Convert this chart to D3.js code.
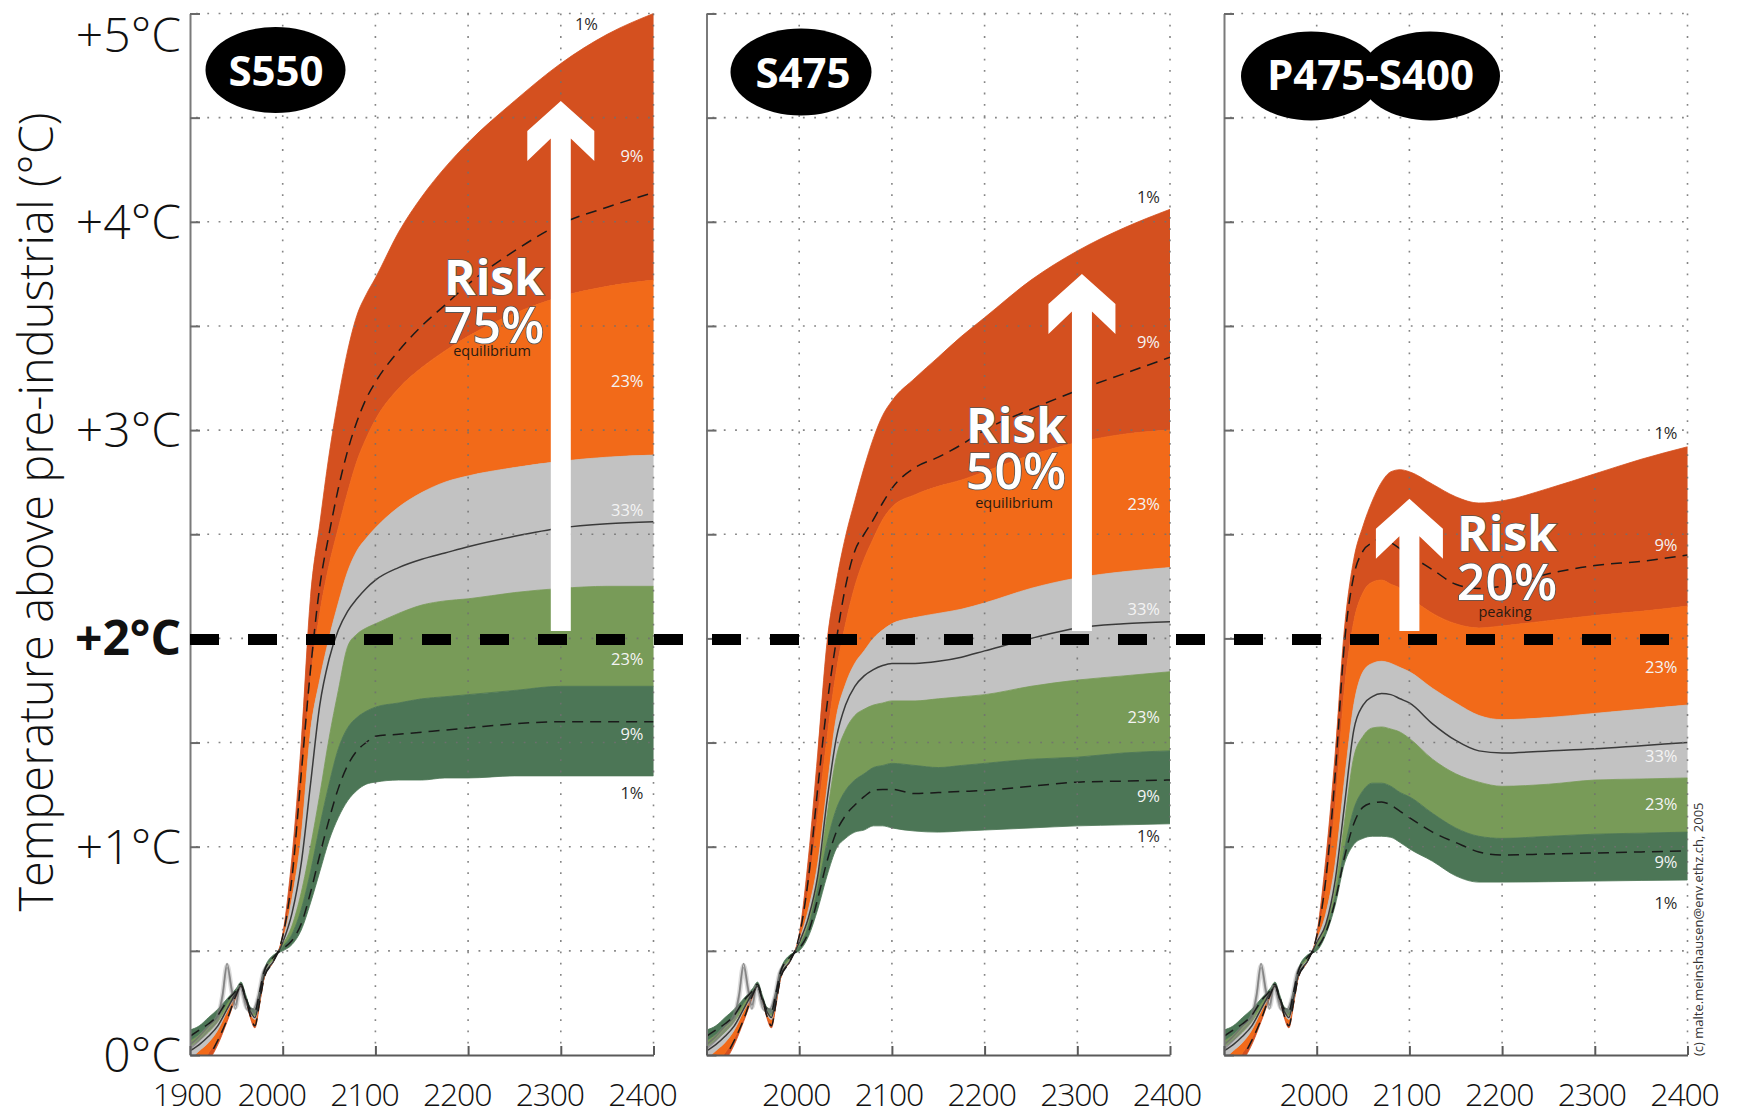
<!DOCTYPE html>
<html><head><meta charset="utf-8">
<script src="https://cdn.jsdelivr.net/npm/d3@7"></script>
<style>
html,body{margin:0;padding:0;background:#fff;}
svg{display:block;font-family:"Open Sans","Noto Sans",sans-serif;}
</style></head>
<body><svg id="chart" width="1737" height="1116"></svg>
<script>
// ---------------- DATA ----------------
const scenarioNames = ["S550", "S475", "P475-S400"];
const riskValues = ["75%", "50%", "20%"];
const riskNotes = ["equilibrium", "equilibrium", "peaking"];
const bandLabels = ["1%", "9%", "23%", "33%", "23%", "9%", "1%"];
const yTickLabels = ["0°C", "+1°C", "+2°C", "+3°C", "+4°C", "+5°C"];
const yTickValues = [0, 1, 2, 3, 4, 5];
const xTickYears = [1900, 2000, 2100, 2200, 2300, 2400];

// historical period (shared by all scenarios)
const histYears = [1900, 1910, 1920, 1930, 1940, 1950, 1955, 1960, 1965, 1970, 1975, 1980, 1990];
const histP99 = [-0.12, -0.08, -0.03, 0.05, 0.16, 0.28, 0.33, 0.27, 0.18, 0.13, 0.24, 0.37, 0.45];
const histP95 = [-0.10, -0.06, -0.01, 0.07, 0.17, 0.29, 0.33, 0.27, 0.19, 0.14, 0.25, 0.37, 0.45];
const histP90 = [-0.08, -0.04, 0.01, 0.08, 0.18, 0.29, 0.33, 0.27, 0.19, 0.15, 0.25, 0.37, 0.45];
const histP67 = [-0.02, 0.02, 0.06, 0.12, 0.21, 0.29, 0.33, 0.27, 0.20, 0.17, 0.26, 0.38, 0.45];
const histMed = [0.02, 0.05, 0.09, 0.14, 0.22, 0.30, 0.33, 0.27, 0.21, 0.18, 0.27, 0.38, 0.45];
const histP33 = [0.04, 0.07, 0.11, 0.16, 0.23, 0.30, 0.33, 0.27, 0.21, 0.19, 0.28, 0.39, 0.46];
const histP10 = [0.07, 0.10, 0.14, 0.18, 0.25, 0.31, 0.34, 0.28, 0.22, 0.20, 0.29, 0.40, 0.47];
const histP5  = [0.09, 0.12, 0.15, 0.19, 0.26, 0.31, 0.34, 0.28, 0.22, 0.21, 0.30, 0.40, 0.47];
const histP1  = [0.12, 0.14, 0.18, 0.22, 0.27, 0.32, 0.35, 0.29, 0.23, 0.22, 0.31, 0.41, 0.48];
const obsYears = [1900, 1910, 1920, 1930, 1935, 1940, 1945, 1949, 1954, 1961, 1968, 1974, 1979, 1985];
const obsTemps = [0.04, 0.08, 0.13, 0.18, 0.28, 0.43, 0.31, 0.23, 0.33, 0.23, 0.21, 0.28, 0.39, 0.43];

// projections
const futureYears = [2000, 2010, 2020, 2030, 2040, 2050, 2060, 2070, 2080, 2090, 2100, 2125, 2150, 2175, 2200, 2250, 2300, 2350, 2400];

const s550P99 = [0.58, 0.95, 1.50, 2.20, 2.55, 2.88, 3.15, 3.38, 3.55, 3.65, 3.73, 3.95, 4.12, 4.26, 4.38, 4.58, 4.76, 4.90, 5.00];
const s550P95 = [0.57, 0.85, 1.35, 1.85, 2.25, 2.50, 2.72, 2.90, 3.04, 3.15, 3.23, 3.38, 3.50, 3.60, 3.70, 3.86, 3.99, 4.07, 4.14];
const s550P90 = [0.56, 0.82, 1.30, 1.80, 2.12, 2.35, 2.53, 2.70, 2.85, 2.96, 3.05, 3.20, 3.30, 3.38, 3.45, 3.56, 3.64, 3.69, 3.72];
const s550P67 = [0.55, 0.75, 1.05, 1.55, 1.80, 2.00, 2.17, 2.32, 2.42, 2.48, 2.53, 2.63, 2.70, 2.75, 2.78, 2.82, 2.85, 2.87, 2.88];
const s550Med = [0.54, 0.68, 0.92, 1.30, 1.68, 1.90, 2.04, 2.13, 2.19, 2.24, 2.28, 2.34, 2.38, 2.41, 2.44, 2.49, 2.53, 2.55, 2.56];
const s550P33 = [0.53, 0.62, 0.78, 1.00, 1.25, 1.52, 1.75, 1.96, 2.02, 2.05, 2.07, 2.12, 2.16, 2.18, 2.19, 2.22, 2.24, 2.25, 2.25];
const s550P10 = [0.52, 0.58, 0.70, 0.88, 1.10, 1.30, 1.47, 1.57, 1.62, 1.65, 1.67, 1.69, 1.71, 1.72, 1.73, 1.75, 1.77, 1.77, 1.77];
const s550P5  = [0.51, 0.55, 0.63, 0.78, 0.96, 1.13, 1.28, 1.39, 1.46, 1.50, 1.53, 1.54, 1.55, 1.56, 1.57, 1.59, 1.60, 1.60, 1.60];
const s550P1  = [0.50, 0.53, 0.60, 0.73, 0.88, 1.03, 1.14, 1.22, 1.27, 1.30, 1.31, 1.32, 1.32, 1.33, 1.33, 1.34, 1.34, 1.34, 1.34];

const s475P99 = [0.58, 0.95, 1.45, 1.98, 2.27, 2.49, 2.66, 2.82, 2.96, 3.07, 3.14, 3.25, 3.35, 3.45, 3.54, 3.72, 3.86, 3.97, 4.06];
const s475P95 = [0.57, 0.85, 1.28, 1.68, 1.99, 2.25, 2.42, 2.50, 2.57, 2.65, 2.72, 2.82, 2.87, 2.93, 3.00, 3.10, 3.19, 3.27, 3.35];
const s475P90 = [0.56, 0.80, 1.15, 1.52, 1.84, 2.07, 2.25, 2.38, 2.48, 2.57, 2.63, 2.69, 2.73, 2.76, 2.80, 2.88, 2.94, 2.98, 3.00];
const s475P67 = [0.55, 0.70, 0.92, 1.28, 1.62, 1.78, 1.88, 1.94, 2.00, 2.04, 2.07, 2.10, 2.12, 2.14, 2.17, 2.24, 2.29, 2.32, 2.34];
const s475Med = [0.54, 0.66, 0.86, 1.22, 1.52, 1.68, 1.77, 1.82, 1.85, 1.87, 1.88, 1.88, 1.89, 1.91, 1.94, 2.00, 2.05, 2.07, 2.08];
const s475P33 = [0.53, 0.64, 0.84, 1.15, 1.43, 1.56, 1.63, 1.66, 1.68, 1.69, 1.70, 1.70, 1.71, 1.72, 1.73, 1.77, 1.80, 1.82, 1.84];
const s475P10 = [0.52, 0.62, 0.80, 1.02, 1.18, 1.27, 1.32, 1.35, 1.38, 1.39, 1.40, 1.39, 1.38, 1.39, 1.40, 1.42, 1.43, 1.45, 1.46];
const s475P5  = [0.51, 0.59, 0.75, 0.93, 1.07, 1.15, 1.20, 1.24, 1.27, 1.275, 1.275, 1.255, 1.26, 1.265, 1.27, 1.29, 1.31, 1.315, 1.32];
const s475P1  = [0.50, 0.57, 0.70, 0.86, 0.99, 1.04, 1.07, 1.08, 1.10, 1.10, 1.09, 1.075, 1.07, 1.075, 1.08, 1.09, 1.10, 1.105, 1.11];

const p475P99 = [0.58, 0.95, 1.45, 2.05, 2.38, 2.54, 2.66, 2.75, 2.80, 2.81, 2.80, 2.74, 2.68, 2.65, 2.66, 2.72, 2.79, 2.86, 2.92];
const p475P95 = [0.57, 0.85, 1.35, 1.98, 2.30, 2.42, 2.46, 2.48, 2.46, 2.43, 2.40, 2.33, 2.26, 2.24, 2.25, 2.31, 2.35, 2.37, 2.40];
const p475P90 = [0.56, 0.80, 1.20, 1.76, 2.08, 2.22, 2.27, 2.28, 2.26, 2.24, 2.20, 2.12, 2.07, 2.05, 2.06, 2.085, 2.11, 2.13, 2.155];
const p475P67 = [0.55, 0.68, 0.92, 1.32, 1.68, 1.84, 1.88, 1.89, 1.88, 1.86, 1.84, 1.76, 1.69, 1.63, 1.61, 1.62, 1.64, 1.66, 1.68];
const p475Med = [0.54, 0.63, 0.84, 1.20, 1.56, 1.68, 1.72, 1.735, 1.73, 1.71, 1.69, 1.59, 1.51, 1.46, 1.45, 1.46, 1.47, 1.485, 1.50];
const p475P33 = [0.53, 0.62, 0.80, 1.12, 1.43, 1.53, 1.57, 1.575, 1.565, 1.55, 1.52, 1.42, 1.35, 1.31, 1.29, 1.30, 1.32, 1.325, 1.33];
const p475P10 = [0.52, 0.60, 0.76, 0.99, 1.18, 1.27, 1.305, 1.305, 1.29, 1.26, 1.24, 1.16, 1.09, 1.05, 1.04, 1.05, 1.06, 1.065, 1.07];
const p475P5  = [0.51, 0.59, 0.74, 0.95, 1.11, 1.19, 1.21, 1.215, 1.20, 1.17, 1.14, 1.07, 1.02, 0.975, 0.96, 0.965, 0.97, 0.975, 0.98];
const p475P1  = [0.50, 0.58, 0.72, 0.92, 1.01, 1.04, 1.05, 1.05, 1.045, 1.02, 0.99, 0.93, 0.86, 0.83, 0.83, 0.832, 0.835, 0.838, 0.84];

// ---------------- LAYOUT ----------------
const svg = d3.select("#chart");
const panelLeft = [190, 706.5, 1224];
const panelWidth = 463.5;
const y = d3.scaleLinear().domain([0, 5]).range([1055, 13.5]);
const col = {red: "#d4501f", orange: "#f26a19", gray: "#c2c2c2", lgreen: "#789b58", dgreen: "#4c7656"};
const bandColors = [col.red, col.orange, col.gray, col.lgreen, col.dgreen];

const scenarioSeries = [
  [s550P99, s550P95, s550P90, s550P67, s550Med, s550P33, s550P10, s550P5, s550P1],
  [s475P99, s475P95, s475P90, s475P67, s475Med, s475P33, s475P10, s475P5, s475P1],
  [p475P99, p475P95, p475P90, p475P67, p475Med, p475P33, p475P10, p475P5, p475P1]
];
const histSeries = [histP99, histP95, histP90, histP67, histMed, histP33, histP10, histP5, histP1];
const allYears = histYears.concat(futureYears);

// annotation layout per panel
const ovals = [
  [{cx: 275.5, cy: 70, rx: 70, ry: 43}],
  [{cx: 801, cy: 72, rx: 70.5, ry: 43.5}],
  [{cx: 1311, cy: 76, rx: 70, ry: 44.5}, {cx: 1430, cy: 76, rx: 70, ry: 44.5}]
];
const ovalTextX = [276, 803, 1370.5];
const ovalTextY = [86, 88, 90];
const arrowYear = [2300, 2305, 2100];
const arrowTipT = [4.58, 3.75, 2.67];
const arrowBaseT = 2.035;
const riskX = [494, 1016, 1507];
const riskY = [[295, 343, 356], [443, 489, 508], [551, 600, 617]];
const labelBaselines = [
  [30, 162, 387, 516, 665, 740, 799],
  [203, 348, 510, 615, 723, 802, 842],
  [439, 551, 673, 762, 810, 868, 909]
];
const labelRightPad = 10;

const defs = svg.append("defs");

scenarioNames.forEach((name, i) => {
  const x = d3.scaleLinear().domain([1900, 2400]).range([panelLeft[i], panelLeft[i] + panelWidth]);
  const clipId = "clip" + i;
  defs.append("clipPath").attr("id", clipId).append("rect")
    .attr("x", x(1900)).attr("y", y(5) - 2).attr("width", panelWidth).attr("height", y(0) - y(5) + 2);
  const g = svg.append("g");
  const plot = g.append("g").attr("clip-path", `url(#${clipId})`);
  const s = scenarioSeries[i].map((arr, k) => histSeries[k].concat(arr));
  const [P99, P95, P90, P67, MED, P33, P10, P5, P1] = s;
  const bounds = [P99, P90, P67, P33, P10, P1];
  const area = (hi, lo) => d3.area()
    .x((d, j) => x(allYears[j])).y0((d, j) => y(lo[j])).y1((d, j) => y(hi[j]))
    .curve(d3.curveMonotoneX);
  for (let b = 0; b < 5; b++) {
    plot.append("path").datum(allYears).attr("d", area(bounds[b], bounds[b + 1]))
      .attr("fill", bandColors[b]).attr("stroke", bandColors[b]).attr("stroke-width", 0.8);
  }
  const line = (arr) => d3.line().x((d, j) => x(allYears[j])).y((d, j) => y(arr[j])).curve(d3.curveMonotoneX);
  // observed historical wiggles
  const obsLine = d3.line().x((d, j) => x(obsYears[j])).y((d, j) => y(obsTemps[j])).curve(d3.curveMonotoneX);
  [[0, 5, 0.35, "#9a9a9a"], [-2, 1.6, 0.7, "#6a6a6a"], [2, 1.6, 0.6, "#7a7a7a"]].forEach(([dy, w, op, c]) => {
    plot.append("path").datum(obsYears).attr("d", obsLine).attr("transform", `translate(0,${dy})`)
      .attr("fill", "none").attr("stroke", c).attr("stroke-width", w).attr("opacity", op);
  });
  plot.append("path").datum(allYears).attr("d", line(MED)).attr("fill", "none")
    .attr("stroke", "#3a3a3a").attr("stroke-width", 1.5);
  [P95, P5].forEach(arr => {
    plot.append("path").datum(allYears).attr("d", line(arr)).attr("fill", "none")
      .attr("stroke", "#1a1a1a").attr("stroke-width", 1.5).attr("stroke-dasharray", "11,7");
  });

  // grid (dotted, on top of bands)
  const grid = g.append("g").attr("stroke", "#707070").attr("stroke-width", 1.6)
    .attr("stroke-dasharray", "1.8,9.5").attr("opacity", 0.85);
  d3.range(0.5, 5.01, 0.5).forEach(t => {
    grid.append("line").attr("x1", x(1900) + 6).attr("x2", x(2400)).attr("y1", y(t)).attr("y2", y(t));
  });
  [2000, 2100, 2200, 2300, 2400].forEach(yr => {
    grid.append("line").attr("x1", x(yr)).attr("x2", x(yr)).attr("y1", y(5)).attr("y2", y(0) - 4);
  });

  // axes
  const ax = g.append("g").attr("transform", `translate(${x(1900)},0)`)
    .call(d3.axisLeft(y).tickValues(d3.range(0, 5.01, 0.5)).tickSize(-10).tickSizeOuter(0).tickFormat(""));
  ax.select(".domain").attr("stroke", "#7a7a7a").attr("stroke-width", 2);
  ax.selectAll(".tick line").attr("stroke", "#6a6a6a").attr("stroke-width", 2);
  const bx = g.append("g").attr("transform", `translate(0,${y(0)})`)
    .call(d3.axisBottom(x).tickValues(xTickYears).tickSize(-9).tickSizeOuter(0).tickFormat(""));
  bx.select(".domain").attr("stroke", "#5a5a5a").attr("stroke-width", 2);
  bx.selectAll(".tick line").attr("stroke", "#5a5a5a").attr("stroke-width", 2);

  // x tick labels
  xTickYears.forEach(yr => {
    if (i > 0 && yr === 1900) return;
    let off = i === 0 ? (yr === 1900 ? -3 : -11) : -3;
    g.append("text").attr("x", x(yr) + off).attr("y", 1106).attr("text-anchor", "middle")
      .attr("font-size", 32).attr("font-weight", 300).attr("letter-spacing", "-1.2").attr("fill", "#111").text(yr);
  });

  // band percentage labels
  bandLabels.forEach((lab, k) => {
    const dark = (k === 0 || k === 6);
    let xr = x(2400) - labelRightPad;
    if (i === 0 && k === 0) xr = 598;
    g.append("text").attr("x", xr).attr("y", labelBaselines[i][k]).attr("text-anchor", "end")
      .attr("font-size", 16.5).attr("fill", dark ? "#2a2a2a" : "#f4f4f4").text(lab);
  });

  // scenario oval
  ovals[i].forEach(o => {
    g.append("ellipse").attr("cx", o.cx).attr("cy", o.cy).attr("rx", o.rx).attr("ry", o.ry).attr("fill", "#000");
  });
  g.append("text").attr("x", ovalTextX[i]).attr("y", ovalTextY[i]).attr("text-anchor", "middle")
    .attr("font-size", 42).attr("font-weight", 700).attr("fill", "#fff").text(name);

  // risk arrow
  const cx = x(arrowYear[i]);
  const tip = y(arrowTipT[i]);
  const base = y(arrowBaseT);
  const pts = [[cx, tip], [cx + 33.5, tip + 30], [cx + 33.5, tip + 60], [cx + 10, tip + 37.5], [cx + 10, base],
    [cx - 10, base], [cx - 10, tip + 37.5], [cx - 33.5, tip + 60], [cx - 33.5, tip + 30]];
  g.append("path").attr("d", "M" + pts.map(p => p.join(",")).join("L") + "Z").attr("fill", "#fff");

  // risk text
  const rt = g.append("g").attr("text-anchor", "middle");
  rt.append("text").attr("x", riskX[i]).attr("y", riskY[i][0]).attr("font-size", 48).attr("font-weight", 700)
    .attr("fill", "#fff").attr("stroke", "#555").attr("stroke-width", 1.6).attr("paint-order", "stroke").text("Risk");
  rt.append("text").attr("x", riskX[i]).attr("y", riskY[i][1]).attr("font-size", 50).attr("font-weight", 600)
    .attr("fill", "#fff").attr("stroke", "#555").attr("stroke-width", 1.6).attr("paint-order", "stroke").text(riskValues[i]);
  rt.append("text").attr("x", riskX[i] - 2).attr("y", riskY[i][2]).attr("font-size", 14.5)
    .attr("fill", "#2a1a10").text(riskNotes[i]);
});

// y tick labels (left panel only)
yTickValues.forEach((t, k) => {
  const base = t === 5 ? y(t) + 38 : y(t) + 17;
  svg.append("text").attr("x", 181).attr("y", base).attr("text-anchor", "end")
    .attr("font-size", 48).attr("font-weight", t === 2 ? 700 : 300).attr("fill", "#111").text(yTickLabels[k]);
});

// y axis title
svg.append("text").attr("transform", `translate(53,${512}) rotate(-90)`).attr("text-anchor", "middle")
  .attr("font-size", 47).attr("font-weight", 300).attr("fill", "#111").text("Temperature above pre-industrial (°C)");

// +2°C threshold line across all panels
const xFirst = d3.scaleLinear().domain([1900, 2400]).range([panelLeft[0], panelLeft[0] + panelWidth]);
const xLast = d3.scaleLinear().domain([1900, 2400]).range([panelLeft[2], panelLeft[2] + panelWidth]);
svg.append("line").attr("x1", xFirst(1900)).attr("x2", xLast(2400)).attr("y1", y(2) + 1).attr("y2", y(2) + 1)
  .attr("stroke", "#000").attr("stroke-width", 11).attr("stroke-dasharray", "29,29");

// credit
svg.append("text").attr("transform", "translate(1703,1056) rotate(-90)").attr("font-size", 13)
  .attr("fill", "#333").text("(c) malte.meinshausen@env.ethz.ch, 2005");
</script></body></html>
